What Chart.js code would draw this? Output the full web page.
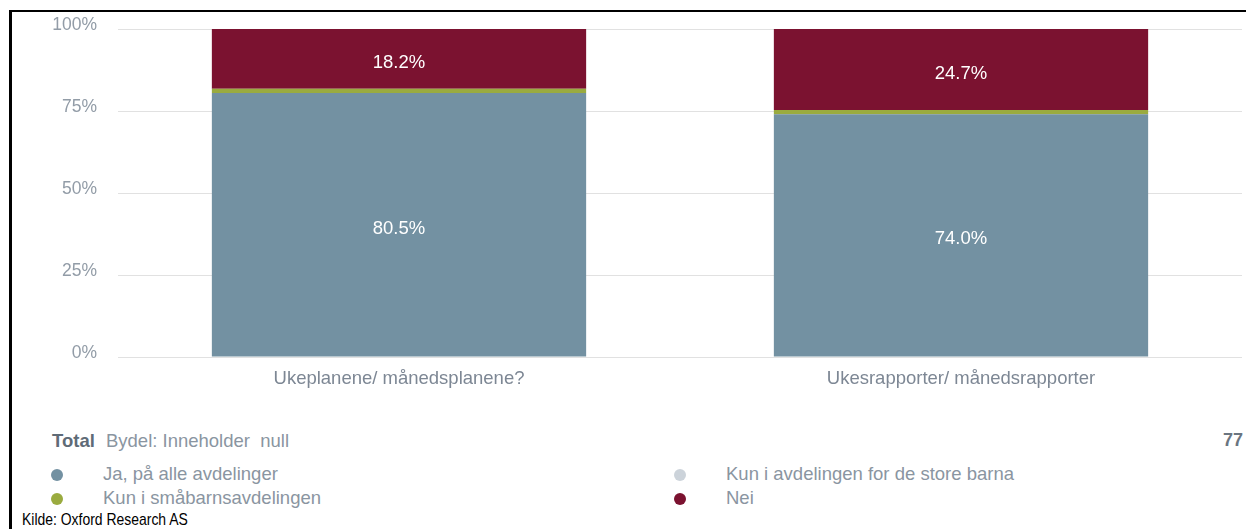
<!DOCTYPE html>
<html>
<head>
<meta charset="utf-8">
<script src="https://cdn.jsdelivr.net/npm/chart.js@4.4.1/dist/chart.umd.min.js"></script>
<style>
  html, body { margin: 0; padding: 0; background: #fff; }
  body { width: 1246px; height: 529px; position: relative; overflow: hidden; font-family: "Liberation Sans", Arial, sans-serif; }
  .frame-top { position: absolute; left: 9px; top: 10px; right: 0; height: 2px; background: #000; z-index: 2; }
  .frame-left { position: absolute; left: 9px; top: 10px; bottom: 0; width: 3px; background: #000; z-index: 2; }
  #wrap { position: absolute; left: 12px; top: 12px; width: 1234px; height: 400px; }
  .total { position: absolute; left: 52px; top: 430px; font-size: 18.5px; color: #8a95a1; white-space: pre; }
  .total b { color: #5f6b77; margin-right: 6px; }
  .count { position: absolute; right: 3px; top: 430px; font-size: 18px; font-weight: bold; color: #6b7580; }
  .legend { position: absolute; left: 0; top: 463px; width: 1246px; }
  .item { position: absolute; height: 22px; font-size: 18.5px; color: #8a95a1; white-space: nowrap; }
  .item .dot { position: absolute; left: 0; top: 6px; width: 12px; height: 12px; border-radius: 50%; }
  .item .txt { position: absolute; left: 52px; top: 0px; }
  .source { position: absolute; left: 22px; top: 510px; font-size: 17px; color: #000; white-space: nowrap; transform: scaleX(0.82); transform-origin: left top; }
</style>
</head>
<body>
<div class="frame-top"></div>
<div class="frame-left"></div>
<div id="wrap"><canvas id="barChart"></canvas></div>
<div class="total"><b>Total</b> Bydel: Inneholder  null</div>
<div class="count" id="count"></div>
<div class="legend" id="legend"></div>
<div class="source">Kilde: Oxford Research AS</div>

<script>
// categories and answers (percent of respondents)
const categories = ['Ukeplanene/ månedsplanene?', 'Ukesrapporter/ månedsrapporter'];
const seriesNames = ['Ja, på alle avdelinger', 'Kun i avdelingen for de store barna', 'Kun i småbarnsavdelingen', 'Nei'];
const jaAlle = [80.5, 74.0];
const storeBarna = [0, 0];
const smaabarn = [1.3, 1.3];
const nei = [18.2, 24.7];
const seriesColors = ['#7391a2', '#ccd3da', '#9aab3f', '#7b1230'];
const yTicks = [0, 25, 50, 75, 100];
const respondents = 77;

// plot area inside the canvas (canvas sits at 12,12 on the page)
const CANVAS_H = 400;
const AREA_TOP = 17;
const AREA_BOTTOM = 345;
const AREA_LEFT = 106;

// legend order: two columns
const legendPos = [
  { left: 51, top: 0 },
  { left: 674, top: 0 },
  { left: 51, top: 24 },
  { left: 674, top: 24 }
];

const legendEl = document.getElementById('legend');
seriesNames.forEach(function (name, i) {
  const div = document.createElement('div');
  div.className = 'item';
  div.style.left = legendPos[i].left + 'px';
  div.style.top = legendPos[i].top + 'px';
  div.innerHTML = '<span class="dot" style="background:' + seriesColors[i] + '"></span><span class="txt">' + name + '</span>';
  legendEl.appendChild(div);
});
document.getElementById('count').textContent = respondents;

// white percentage labels inside the bigger segments
const segmentLabels = {
  id: 'segmentLabels',
  afterDatasetsDraw(chart) {
    const ctx = chart.ctx;
    ctx.save();
    ctx.font = '18.5px "Liberation Sans", Arial, sans-serif';
    ctx.fillStyle = '#ffffff';
    ctx.textAlign = 'center';
    ctx.textBaseline = 'middle';
    chart.data.datasets.forEach(function (ds, di) {
      if (!ds.showValue) return;
      const meta = chart.getDatasetMeta(di);
      meta.data.forEach(function (bar, i) {
        const v = ds.data[i];
        if (v < 5) return;
        const p = bar.getProps(['x', 'y', 'base'], true);
        ctx.fillText(v.toFixed(1) + '%', p.x, (p.y + p.base) / 2 + 4);
      });
    });
    ctx.restore();
  }
};

const ctx = document.getElementById('barChart').getContext('2d');
const myBarChart = new Chart(ctx, {
  type: 'bar',
  data: {
    labels: categories,
    datasets: [
      { label: seriesNames[0], data: jaAlle, backgroundColor: seriesColors[0], showValue: true },
      { label: seriesNames[1], data: storeBarna, backgroundColor: seriesColors[1] },
      { label: seriesNames[2], data: smaabarn, backgroundColor: seriesColors[2] },
      { label: seriesNames[3], data: nei, backgroundColor: seriesColors[3], showValue: true }
    ]
  },
  options: {
    responsive: true,
    maintainAspectRatio: false,
    animation: false,
    categoryPercentage: 1,
    barPercentage: 0.666,
    layout: { padding: { left: 0, right: 4, top: AREA_TOP, bottom: 0 } },
    plugins: {
      legend: { display: false },
      tooltip: { enabled: false }
    },
    scales: {
      x: {
        stacked: true,
        grid: { display: false },
        border: { display: false },
        ticks: {
          color: '#7d8794',
          padding: 3,
          font: { family: '"Liberation Sans", Arial, sans-serif', size: 18.5 }
        },
        afterFit(scale) { scale.height = CANVAS_H - AREA_BOTTOM; }
      },
      y: {
        stacked: true,
        min: 0,
        max: 100,
        afterBuildTicks(scale) { scale.ticks = yTicks.map(v => ({ value: v })); },
        grid: { color: '#e1e1e1', lineWidth: 1, drawTicks: false },
        border: { display: false },
        ticks: {
          color: '#929ca7',
          padding: 21,
          labelOffset: -4,
          font: { family: '"Liberation Sans", Arial, sans-serif', size: 17.5 },
          callback: v => v + '%'
        },
        afterFit(scale) {
          // fixed axis width, and no extra room reserved above/below the ticks
          scale.width = AREA_LEFT;
          scale.paddingTop = 0;
          scale.paddingBottom = 0;
        }
      }
    }
  },
  plugins: [segmentLabels]
});
</script>
</body>
</html>
